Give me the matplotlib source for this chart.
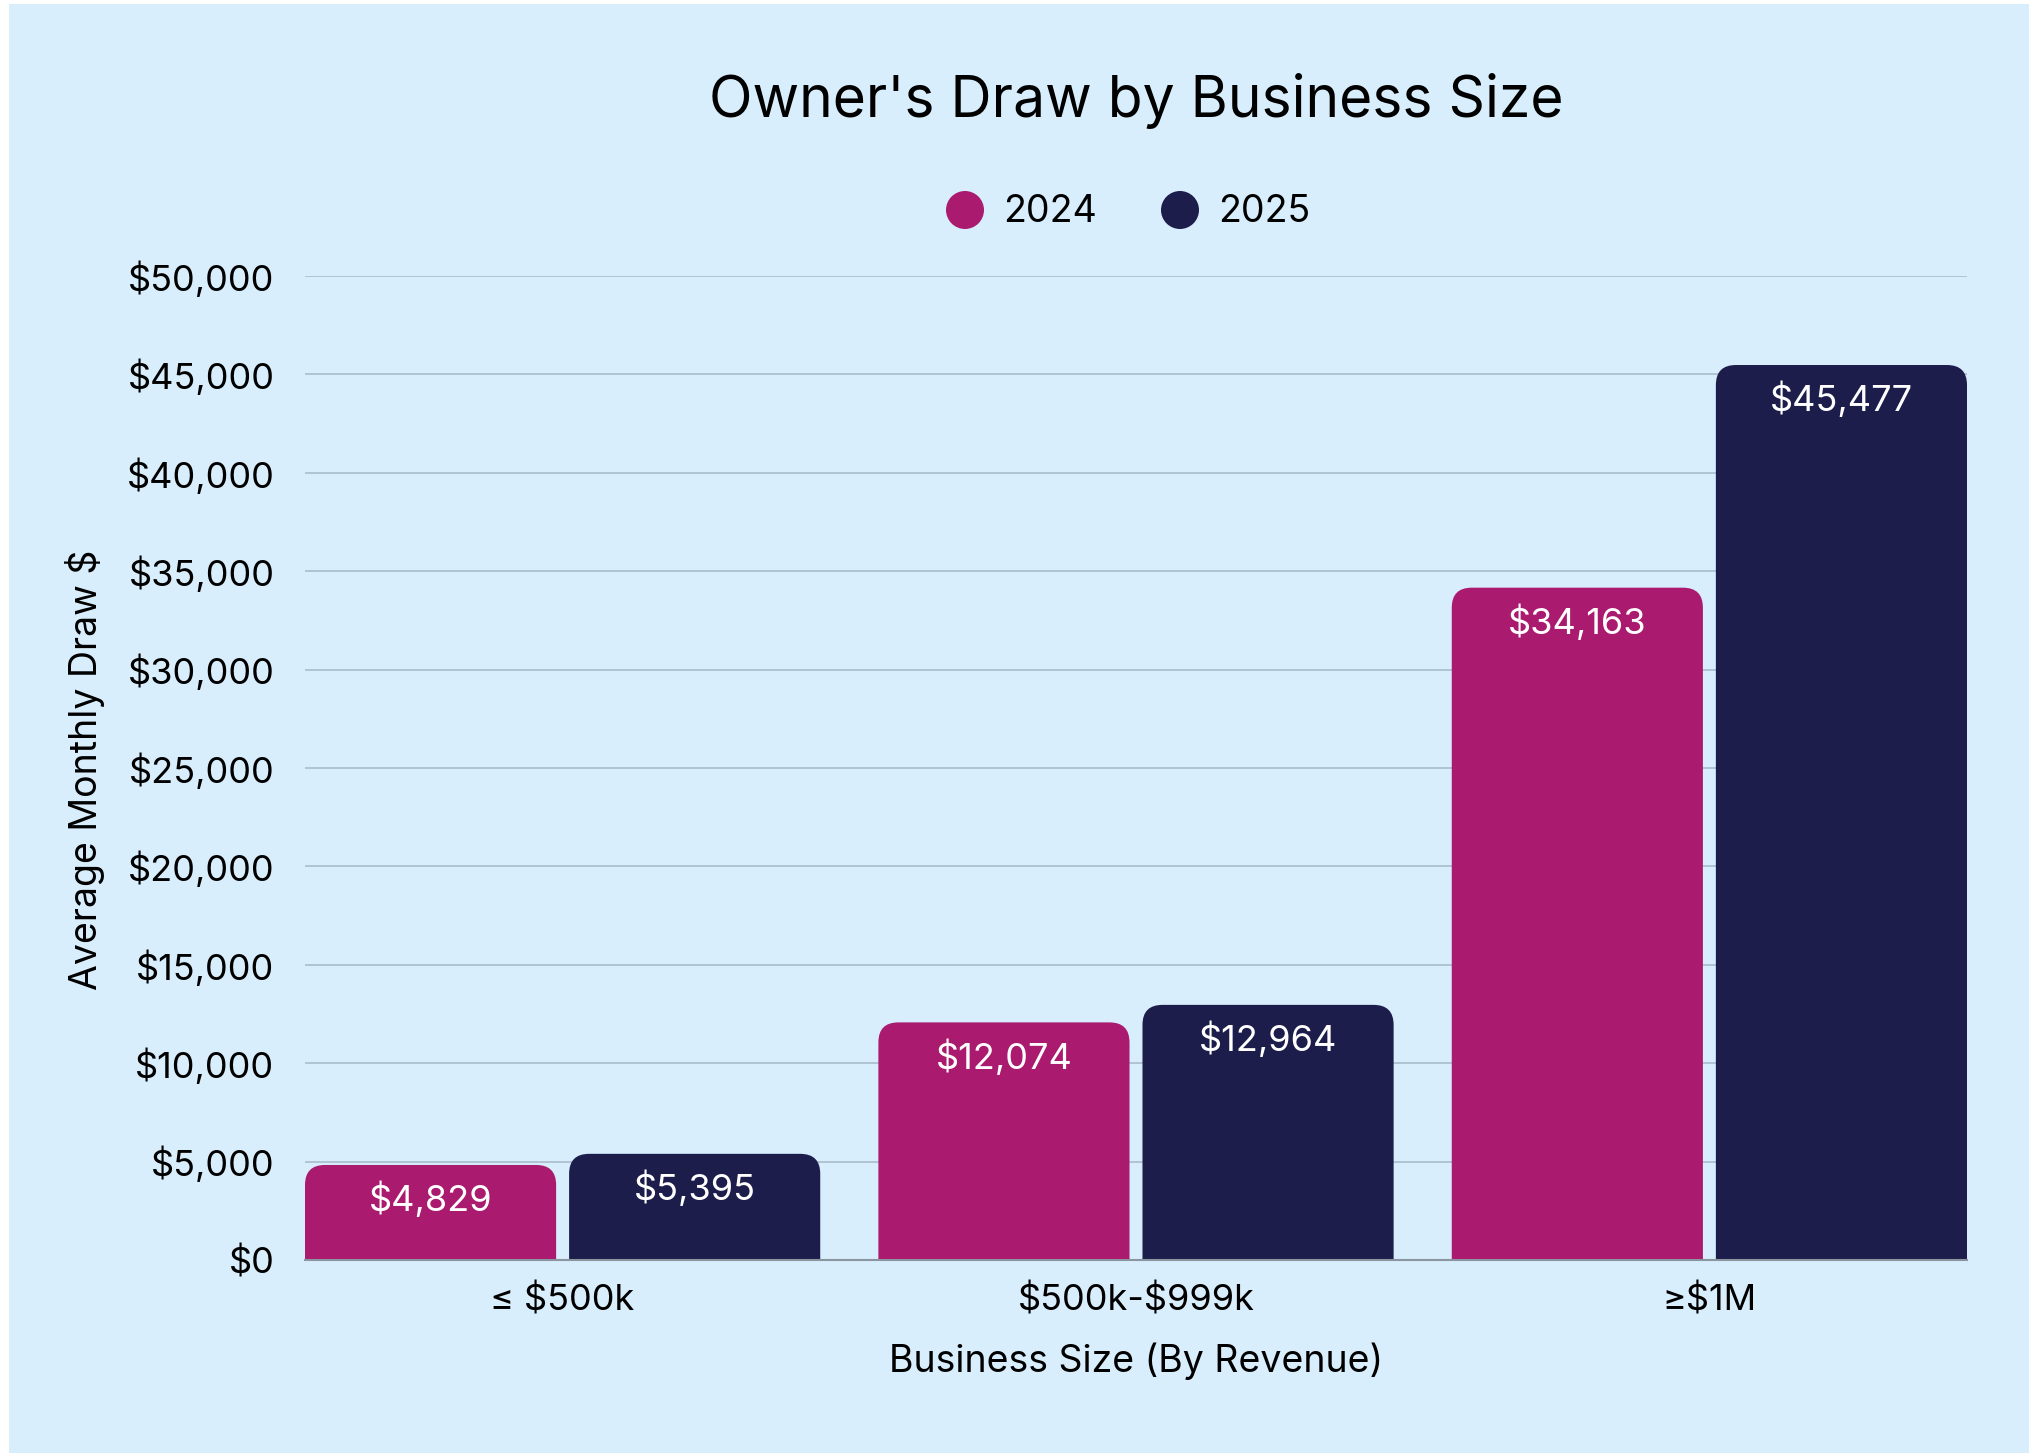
import numpy as np
import matplotlib
matplotlib.use('Agg')
import matplotlib.pyplot as plt
from matplotlib.patches import FancyBboxPatch, Rectangle, Ellipse

plt.rcParams['font.family'] = ['Inter', 'DejaVu Sans']
plt.rcParams['text.parse_math'] = False

# data
sizes = ['≤ $500k', '$500k-$999k', '≥$1M']
years = ['2024', '2025']
draw_2024 = [4829, 12074, 34163]
draw_2025 = [5395, 12964, 45477]
yticks = list(range(0, 50001, 5000))

bg = '#D9EEFC'
c2024 = '#AA1A6F'
c2025 = '#1D1D4B'
grid_c = '#A9BCCB'

W, H = 2029, 1453
fig = plt.figure(figsize=(W / 100, H / 100), dpi=100)
fig.patch.set_facecolor('white')
fig.add_artist(Rectangle((9 / W, 0), 1 - 9 / W, 1 - 4 / H, transform=fig.transFigure,
                         facecolor=bg, edgecolor='none', zorder=-10))

# axes box in pixels: left 305, right 1967, top 276, bottom 1260
ax = fig.add_axes([305 / W, 1 - 1260 / H, (1967 - 305) / W, (1260 - 276) / H])
ax.patch.set_alpha(0)

bar_w = 0.438
gap = 0.0226
off = bar_w / 2 + gap / 2
ax.set_xlim(-off - bar_w / 2, 2 + off + bar_w / 2)
ax.set_ylim(0, 50000)

# data units per pixel, used to keep corners circular
bbox = ax.get_window_extent()
xpp = (ax.get_xlim()[1] - ax.get_xlim()[0]) / bbox.width
ypp = 50000 / bbox.height
r_px = 20
r = r_px * xpp
aspect = ypp / xpp

x = np.arange(len(sizes))
for vals, dx, col in [(draw_2024, -off, c2024), (draw_2025, off, c2025)]:
    for xi, v in zip(x, vals):
        left = xi + dx - bar_w / 2
        extra = r_px * 2 * ypp
        p = FancyBboxPatch((left, -extra), bar_w, v + extra,
                           boxstyle=f'round,pad=0,rounding_size={r}',
                           mutation_aspect=aspect, facecolor=col,
                           edgecolor='none', zorder=3, clip_on=True)
        ax.add_patch(p)
        ax.text(xi + dx, v - 35 * ypp, f'${v:,}', ha='center', va='center',
                color='white', fontsize=26, zorder=4)

ax.set_yticks(yticks)
ax.set_yticklabels([f'${t:,}' for t in yticks], fontsize=26)
ax.set_xticks(x)
ax.set_xticklabels(sizes, fontsize=26)
ax.tick_params(axis='y', length=0, pad=22)
ax.tick_params(axis='x', length=0, pad=17)
ax.grid(axis='y', color=grid_c, linewidth=1.2, zorder=0)
for s in ['top', 'right', 'left']:
    ax.spines[s].set_visible(False)
ax.spines['bottom'].set_color('#8A95A0')
ax.spines['bottom'].set_linewidth(1.5)
ax.spines['bottom'].set_zorder(5)

ax.set_xlabel('Business Size (By Revenue)', fontsize=27, labelpad=18)
fig.text(85 / W, 1 - 770 / H, 'Average Monthly Draw $', rotation=90,
         ha='center', va='center', fontsize=27)

fig.text(1136 / W, 1 - 101 / H, "Owner's Draw by Business Size", ha='center',
         va='center', fontsize=41)

# legend
for cx, col, lab in [(965, c2024, years[0]), (1180, c2025, years[1])]:
    fig.add_artist(Ellipse((cx / W, 1 - 210 / H), 38 / W, 38 / H,
                           transform=fig.transFigure,
                           facecolor=col, edgecolor='none'))
    fig.text((cx + 38) / W, 1 - 212 / H, lab, ha='left', va='center', fontsize=27)

fig.savefig('out.png', dpi=100, facecolor='white')
